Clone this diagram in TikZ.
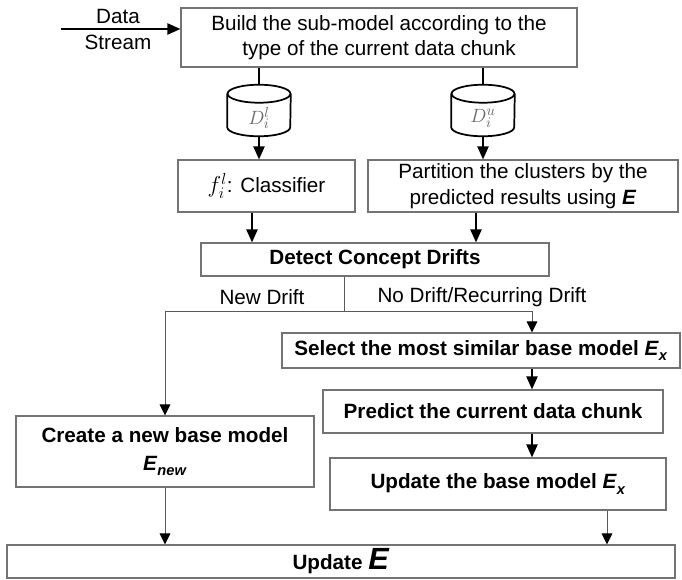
\documentclass[tikz,border=0pt]{standalone}
\usepackage{fontspec}
\setmainfont{Liberation Sans}
\usetikzlibrary{arrows.meta,calc}
\newcommand\bi[1]{\textbf{\textit{#1}}}
\newcommand\Esub[1]{\bi{E}\raisebox{-0.5ex}{\fontsize{11}{11}\selectfont\bi{#1}}}
\newcommand\drawcyl[1]{%
  \draw[cylline, fill=white] ($(#1.north)+(0,9)$) ellipse [x radius=23.625pt, y radius=6.75pt];
  \draw[cylline] ($(#1.north west)+(0,9)$) -- ($(#1.south west)+(0,-9)$)
     arc[start angle=180, end angle=360, x radius=23.625pt, y radius=6.75pt]
     -- ($(#1.north east)+(0,9)$);}
\begin{document}
\begin{tikzpicture}[x=0.75pt,y=-0.75pt,
  txt/.style={font=\fontsize{15.5}{19}\selectfont, align=center, inner sep=0pt},
  box/.style={txt, draw=black!55, line width=0.8pt},
  bbox/.style={box, font=\bfseries\fontsize{15.5}{19}\selectfont},
  sz/.style 2 args={minimum width={#1*0.75pt}, minimum height={#2*0.75pt}},
  bigarrow/.style={-{Triangle[length=9.75pt,width=8.25pt]}, line width=1.5pt},
  smallarrow/.style={-{Triangle[length=8.25pt,width=8pt,color=black]}, line width=0.75pt, draw=black!65},
  thinline/.style={line width=0.75pt, draw=black!65},
  cylline/.style={line width=1.3pt},
]
\useasboundingbox (0,0) rectangle (682,580);

% top
\node[box, sz={396}{59}] (build) at (379,37.5) {Build the sub-model according to the\\type of the current data chunk};
\node[txt] (ds) at (118,29.5) {Data\\Stream};
\coordinate (dsin) at (61,29);
\draw[bigarrow] (dsin) -- (dsin -| build.west);

% cylinders
\node[sz={63}{51}, inner sep=0pt] (cl) at (259,110.5) {};
\node[sz={63}{51}, inner sep=0pt] (cr) at (483,110.5) {};
\draw[cylline] (build.south -| cl) -- (cl.north);
\draw[cylline] (build.south -| cr) -- (cr.north);
\drawcyl{cl}
\drawcyl{cr}
\node[text=black!60, font=\fontsize{15}{17}\selectfont] (cltext) at (259,118) {$D_i^l$};
\node[text=black!60, font=\fontsize{15}{17}\selectfont] (crtext) at (483,118) {$D_i^u$};

% second row
\node[box, sz={177}{52}] (clf) at (266.5,186) {\fontsize{17}{19}\selectfont$f_i^l$\fontsize{15.5}{19}\selectfont: Classifier};
\node[box, sz={310}{52}] (part) at (523,186) {Partition the clusters by the\\predicted results using \bi{E}};
\draw[bigarrow] (cl.south) -- (cl.south |- clf.north);
\draw[bigarrow] (cr.south) -- (cr.south |- part.north);

% detect
\node[bbox, sz={348}{33}] (det) at (375,259.5) {Detect Concept Drifts};
\draw[bigarrow] ($(clf.south)+(-14.5,0)$) coordinate (c1) -- (c1 |- det.north);
\draw[bigarrow] ($(part.south)+(-47,0)$) coordinate (c2) -- (c2 |- det.north);

% branches
\node[txt] (nd) at (262,297) {New Drift};
\node[txt] (nrd) at (482,297) {No Drift/Recurring Drift};
\coordinate (j) at (344,312);
\coordinate (colr) at (532,312);
\coordinate (colr2) at (607,0);

\node[bbox, sz={398}{35}] (sel) at (481,350.5) {Select the most similar base model \Esub{x}};
\node[bbox, sz={340}{43}] (pred) at (493,411.5) {Predict the current data chunk};
\node[bbox, sz={336}{52}] (upd) at (498,484) {Update the base model \Esub{x}};
\node[bbox, sz={298}{71}, font=\bfseries\fontsize{15.5}{21}\selectfont] (create) at (165,451.5) {Create a new base model\\\Esub{new}};
\node[bbox, sz={668}{33}] (upe) at (341,561.5) {Update {\fontsize{23}{23}\selectfont\bi{E}}};

\draw[thinline] (det.south -| j) -- (j);
\draw[smallarrow] (j) -| (create.north);
\draw[smallarrow] (j) -| (sel.north -| colr);
\draw[bigarrow] (sel.south -| colr) -- (pred.north -| colr);
\draw[bigarrow] (pred.south -| colr) -- (upd.north -| colr);
\draw[smallarrow] (create.south) -- (create.south |- upe.north);
\draw[smallarrow] (upd.south -| colr2) -- (upe.north -| colr2);
\end{tikzpicture}
\end{document}
